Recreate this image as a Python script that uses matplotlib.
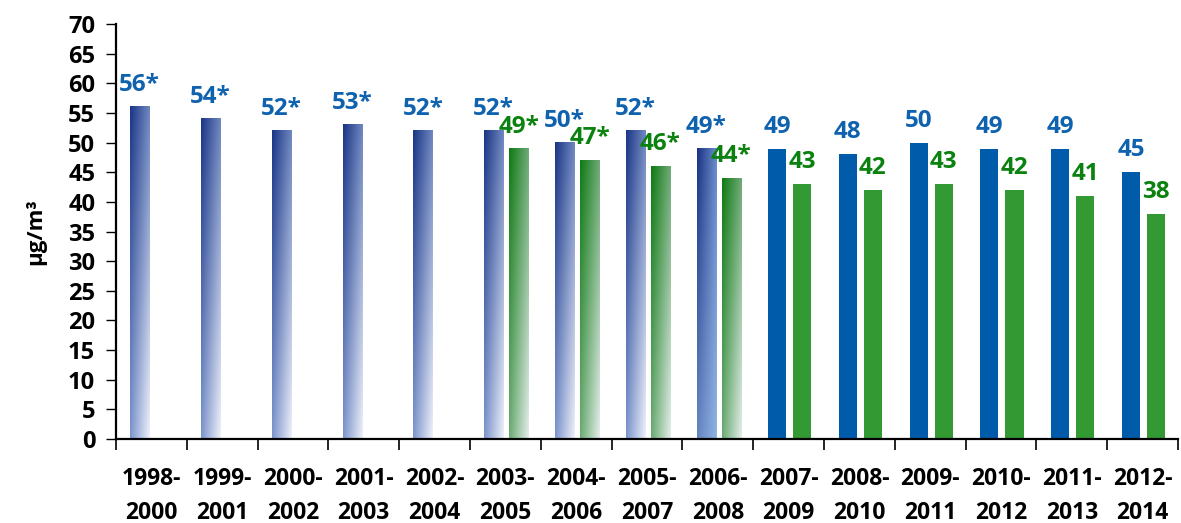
import matplotlib
matplotlib.use('Agg')
import matplotlib.pyplot as plt
import numpy as np
from matplotlib.colors import to_rgb

periods = ['1998-\n2000', '1999-\n2001', '2000-\n2002', '2001-\n2003', '2002-\n2004',
           '2003-\n2005', '2004-\n2006', '2005-\n2007', '2006-\n2008', '2007-\n2009',
           '2008-\n2010', '2009-\n2011', '2010-\n2012', '2011-\n2013', '2012-\n2014']
blue_vals = [56, 54, 52, 53, 52, 52, 50, 52, 49, 49, 48, 50, 49, 49, 45]
green_vals = [None, None, None, None, None, 49, 47, 46, 44, 43, 42, 43, 42, 41, 38]
# first 9 periods are estimated values (marked with *)
estimated = [True] * 9 + [False] * 6

plt.rcParams['font.family'] = ['Open Sans', 'DejaVu Sans']
plt.rcParams['font.weight'] = 'bold'

# corner colours: top-left, top-right, bottom-left, bottom-right
BLUE_GRAD = ['#1a3585', '#7088c0', '#7c94cc', '#eef1fa']
BLUE_GRAD2 = ['#1a3282', '#6a8ccc', '#6484c0', '#90b4e4']
GREEN_GRAD = ['#0e7a12', '#70aa78', '#6aaa72', '#e4eeea']
BLUE_SOLID = '#005baa'
GREEN_SOLID = '#339933'
BLUE_TXT = '#0f62ae'
GREEN_TXT = '#0b820f'


def grad_img(corners, n=64):
    tl, tr, bl, br = [np.array(to_rgb(c)) for c in corners]
    u = np.linspace(0, 1, n)[None, :, None]
    v = np.linspace(0, 1, n)[:, None, None]
    top = tl * (1 - u) + tr * u
    bot = bl * (1 - u) + br * u
    return top * (1 - v) + bot * v


fig = plt.figure(figsize=(11.81, 5.23), dpi=100)
ax = fig.add_axes([0.0982, 0.1606, 0.8993, 0.7935])

x = np.arange(len(periods))
off_b, off_g = -0.165, 0.19

for i in range(len(periods)):
    est = estimated[i]
    w = 0.27 if est else 0.255
    # blue
    xb = x[i] + off_b
    bv = blue_vals[i]
    if est:
        corners = BLUE_GRAD2 if i == 8 else BLUE_GRAD
        ax.imshow(grad_img(corners), extent=(xb - w / 2, xb + w / 2, 0, bv),
                  aspect='auto', interpolation='bilinear', zorder=2)
    else:
        ax.bar(xb, bv, width=w, color=BLUE_SOLID, zorder=2)
    ax.annotate('%d%s' % (bv, '*' if est else ''), (xb, bv), xytext=(0, 11.5),
                textcoords='offset points', ha='center', va='baseline',
                color=BLUE_TXT, fontsize=17.5, fontweight='bold', zorder=3)
    # green
    gv = green_vals[i]
    if gv is None:
        continue
    xg = x[i] + off_g
    if est:
        ax.imshow(grad_img(GREEN_GRAD), extent=(xg - w / 2, xg + w / 2, 0, gv),
                  aspect='auto', interpolation='bilinear', zorder=2)
    else:
        ax.bar(xg, gv, width=w, color=GREEN_SOLID, zorder=2)
    ax.annotate('%d%s' % (gv, '*' if est else ''), (xg, gv), xytext=(0, 11.5),
                textcoords='offset points', ha='center', va='baseline',
                color=GREEN_TXT, fontsize=17.5, fontweight='bold', zorder=3)

ax.set_xlim(-0.5, len(periods) - 0.5)
ax.set_ylim(0, 70)
ax.set_aspect('auto')
ax.set_yticks(np.arange(0, 71, 5))
ax.set_xticks(x)
ax.set_xticklabels(periods, fontsize=16.5, fontweight='bold', linespacing=1.55)
ax.set_xticks(np.arange(-0.5, len(periods), 1), minor=True)
ax.tick_params(axis='x', which='major', length=0, pad=20)
ax.tick_params(axis='x', which='minor', length=8, width=1.2, direction='out')
ax.tick_params(axis='y', length=7, width=1, pad=8, labelsize=17)
for lab in ax.get_yticklabels():
    lab.set_fontweight('bold')

for s in ['top', 'right']:
    ax.spines[s].set_visible(False)
for s in ['left', 'bottom']:
    ax.spines[s].set_linewidth(1.6)
    ax.spines[s].set_color('black')

ax.set_ylabel('µg/m³', fontsize=16, fontweight='bold', labelpad=16)

fig.savefig('out.png', dpi=100)
